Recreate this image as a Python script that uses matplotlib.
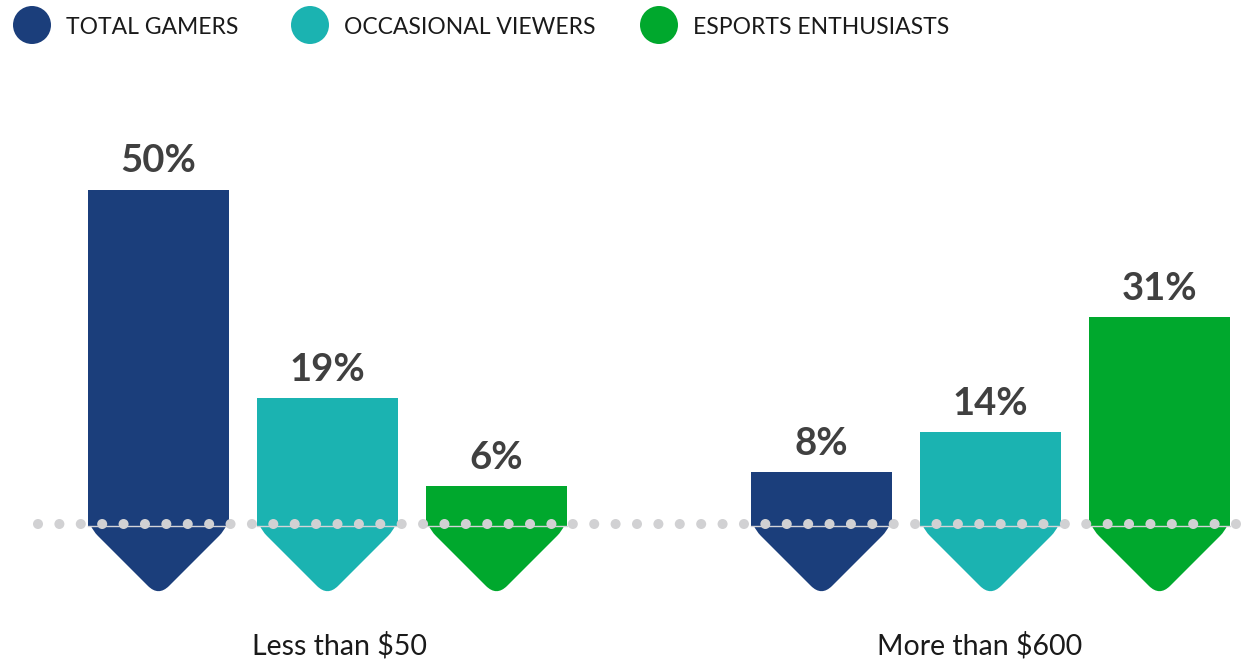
import numpy as np
import matplotlib.pyplot as plt
from matplotlib.path import Path
from matplotlib.patches import PathPatch

# spending share by series
series = ['TOTAL GAMERS', 'OCCASIONAL VIEWERS', 'ESPORTS ENTHUSIASTS']
colors = ['#1b3e7b', '#1bb3b1', '#00a82d']
groups = ['Less than $50', 'More than $600']
values = [
    [50, 19, 6],   # Less than $50
    [8, 14, 31],   # More than $600
]

W, H = 1250, 660
base_px = 526          # baseline row in pixels from top
k = 6.73               # pixels per percentage point

fig = plt.figure(figsize=(W / 100, H / 100), dpi=100)
ax = fig.add_axes([0, 0, 1, 1])
ax.set_xlim(0, W)
ax.set_ylim(-(H - base_px) / k, base_px / k)
ax.axis('off')

plt.rcParams['font.family'] = ['Lato', 'DejaVu Sans']

bar_w = 141
group_left = [88, 751]
step = 169


def arrow_tip(x0, w, color):
    # rounded chevron hanging below the baseline
    a, b = 14, 15
    h = w / 2
    s = 1 / np.sqrt(2)
    pts = [
        (x0, -a), (x0, 0), (x0 + a * s, a * s),
        (x0 + h - b * s, h - b * s), (x0 + h, h), (x0 + h + b * s, h - b * s),
        (x0 + w - a * s, a * s), (x0 + w, 0), (x0 + w, -a),
        (x0, -a),
    ]
    codes = [Path.MOVETO, Path.CURVE3, Path.CURVE3,
             Path.LINETO, Path.CURVE3, Path.CURVE3,
             Path.LINETO, Path.CURVE3, Path.CURVE3,
             Path.CLOSEPOLY]
    verts = [(x, -y / k) for x, y in pts]
    ax.add_patch(PathPatch(Path(verts, codes), facecolor=color,
                           edgecolor='none', zorder=2))


for g, vals in enumerate(values):
    for i, v in enumerate(vals):
        x0 = group_left[g] + i * step
        ax.bar(x0, v, width=bar_w, align='edge', color=colors[i],
               edgecolor='none', zorder=2)
        arrow_tip(x0, bar_w, colors[i])
        ax.plot([x0, x0 + bar_w], [0, 0], color='#d4d4d8', lw=1, zorder=3)
        ax.annotate(f'{v}%', (x0 + bar_w / 2, v), xytext=(0, 17),
                    textcoords='offset pixels', ha='center', va='baseline',
                    fontsize=27.5, fontweight='bold', color='#404040')

# dotted baseline
dots_x = np.linspace(38, 1236, 57)
ax.scatter(dots_x, np.full_like(dots_x, 2 / k), s=52, color='#d1d1d3',
           edgecolor='none', zorder=4)

# group labels
for label, cx in zip(groups, [339, 980]):
    ax.text(cx, -(655 - base_px) / k, label, ha='center', va='baseline',
            fontsize=20.5, color='#1a1a1a')

# legend
leg_x = [32, 310, 659]
leg_y = (base_px - 25) / k
for name, c, lx in zip(series, colors, leg_x):
    ax.scatter([lx], [leg_y], s=(38 * 0.72) ** 2, color=c, edgecolor='none')
    ax.text(lx + 34, leg_y, name, ha='left', va='center_baseline',
            fontsize=16.5, color='#1a1a1a')

fig.savefig('out.png', dpi=100)
